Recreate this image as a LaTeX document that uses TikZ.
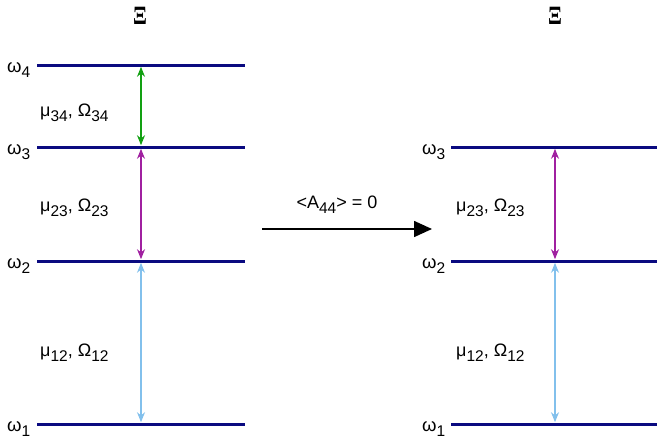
\documentclass[tikz,border=0pt]{standalone}
\usepackage{fontspec}
\setmainfont{Liberation Sans}
\newfontfamily\xifont{Liberation Serif}
\usetikzlibrary{arrows.meta}
\definecolor{navy}{HTML}{0A0A80}
\definecolor{tgreen}{HTML}{12A012}
\definecolor{tpurple}{HTML}{A020A0}
\definecolor{tblue}{HTML}{82C0EC}
\newcommand\sbx[1]{\raisebox{-0.3em}{\fontsize{15.5}{15.5}\selectfont #1}}
\tikzset{
  level/.style={draw=navy, line width=3pt},
  trans/.style={line width=1.2pt, {Stealth[length=10pt,width=8pt]}-{Stealth[length=10pt,width=8pt]}, shorten <=1.8pt, shorten >=1.8pt},
  lbl/.style={inner sep=0pt, anchor=base west, font=\fontsize{18}{18}\selectfont},
  wlbl/.style={inner sep=0pt, anchor=base west, font=\fontsize{18.5}{18.5}\selectfont},
  xi/.style={inner sep=0pt, font=\xifont\bfseries\fontsize{24}{24}\selectfont}
}
\begin{document}
\begin{tikzpicture}[x=1pt,y=-1pt]
\useasboundingbox (0,0) rectangle (657,442);
% left diagram
\coordinate (L4a) at (37,65);  \coordinate (L4b) at (245,65);
\coordinate (L3a) at (37,147); \coordinate (L3b) at (245,147);
\coordinate (L2a) at (37,261); \coordinate (L2b) at (245,261);
\coordinate (L1a) at (37,424); \coordinate (L1b) at (245,424);
\draw[level] (L4a) -- (L4b);
\draw[level] (L3a) -- (L3b);
\draw[level] (L2a) -- (L2b);
\draw[level] (L1a) -- (L1b);
\coordinate (A4) at (141,65);
\coordinate (A3) at (141,147);
\coordinate (A2) at (141,261);
\coordinate (A1) at (141,424);
\draw[trans, draw=tgreen, color=tgreen] (A4) -- (A3);
\draw[trans, draw=tpurple, color=tpurple] (A3) -- (A2);
\draw[trans, draw=tblue, color=tblue] (A2) -- (A1);
\node[wlbl] (w4) at (7,72) {ω\sbx{4}};
\node[wlbl] (w3) at (7,154) {ω\sbx{3}};
\node[wlbl] (w2) at (7,268) {ω\sbx{2}};
\node[wlbl] (w1) at (7,431) {ω\sbx{1}};
\node[lbl] (m34) at (40,116) {μ\sbx{34}, Ω\sbx{34}};
\node[lbl] (m23) at (40,211) {μ\sbx{23}, Ω\sbx{23}};
\node[lbl] (m12) at (40,356) {μ\sbx{12}, Ω\sbx{12}};
\node[xi] (xl) at (140,16) {\scalebox{0.85}[1.1]{Ξ}};
% middle arrow
\coordinate (Ma) at (262,229);
\coordinate (Mb) at (432,229);
\draw[line width=1.6pt, -{Triangle[length=18pt,width=16pt]}] (Ma) -- (Mb);
\node[lbl, anchor=base] (cond) at (337,208) {<A\sbx{44}> = 0};
% right diagram
\coordinate (R3a) at (451,147); \coordinate (R3b) at (657,147);
\coordinate (R2a) at (451,261); \coordinate (R2b) at (657,261);
\coordinate (R1a) at (451,424); \coordinate (R1b) at (657,424);
\draw[level] (R3a) -- (R3b);
\draw[level] (R2a) -- (R2b);
\draw[level] (R1a) -- (R1b);
\coordinate (B3) at (555,147);
\coordinate (B2) at (555,261);
\coordinate (B1) at (555,424);
\draw[trans, draw=tpurple, color=tpurple] (B3) -- (B2);
\draw[trans, draw=tblue, color=tblue] (B2) -- (B1);
\node[wlbl] (v3) at (422,154) {ω\sbx{3}};
\node[wlbl] (v2) at (422,268) {ω\sbx{2}};
\node[wlbl] (v1) at (422,431) {ω\sbx{1}};
\node[lbl] (n23) at (456,211) {μ\sbx{23}, Ω\sbx{23}};
\node[lbl] (n12) at (456,356) {μ\sbx{12}, Ω\sbx{12}};
\node[xi] (xr) at (555,16) {\scalebox{0.85}[1.1]{Ξ}};
\end{tikzpicture}
\end{document}
